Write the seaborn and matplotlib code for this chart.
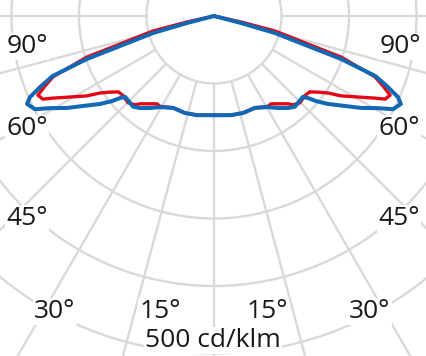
import numpy as np
import pandas as pd
import matplotlib
matplotlib.use("Agg")
import matplotlib.pyplot as plt
import seaborn as sns

# ---- data (angle from nadir in degrees, intensity in cd/klm) ----
blue_angle = [0, 9.7, 16.6, 24.0, 30.7, 34.8, 38.8, 41.7, 47.7, 48.9, 50.2, 52.3,
              58.0, 60.7, 62.5, 64.8, 66.2, 67.8, 69.6, 71.3, 72.3, 74.4, 75.5, 90]
blue_cdklm = [147, 149, 150, 149, 157, 166, 175, 180, 178, 185, 197, 213,
              257, 279, 299, 306, 298, 278, 255, 199, 146, 94, 41, 0]

red_angle = [0, 9.7, 16.6, 24.0, 31.0, 32.9, 40.1, 41.6, 44.7, 49.0, 51.6, 53.8,
             56.0, 57.8, 61.1, 63.0, 64.1, 65.8, 67.5, 69.3, 72.1, 73.4, 76.2, 77.5, 90]
red_cdklm = [147, 149, 150, 149, 156, 155, 170, 176, 181, 179, 181, 191,
             204, 222, 249, 268, 282, 286, 271, 255, 198, 145, 93, 41, 0]

ring_values = [100, 200, 300, 400, 500]
spoke_angles = list(range(0, 360, 15))
angle_labels = ["90°", "60°", "45°", "30°", "15°"]
scale_label = "500 cd/klm"


def full_curve(ang, val):
    # left half (positive angles) mirrored to the right half (negative angles)
    a = list(reversed(ang)) + [-x for x in ang[1:]]
    v = list(reversed(val)) + list(val[1:])
    return pd.DataFrame({"theta": np.deg2rad(a), "cdklm": v, "order": range(len(a))})


sns.set_style("white")
plt.rcParams["font.family"] = ["Open Sans", "DejaVu Sans"]

W, H = 427, 356
fig = plt.figure(figsize=(W / 100, H / 100), dpi=100)
cx, cy = 214, 16          # pole position in pixels (from top-left)
rmax = 600
R = rmax * 0.675          # pixels
ax = fig.add_axes([(cx - R) / W, (H - cy - R) / H, 2 * R / W, 2 * R / H], projection="polar")
ax.set_theta_zero_location("S")
ax.set_theta_direction(-1)
ax.set_ylim(0, rmax)
ax.set_facecolor("white")
ax.spines["polar"].set_visible(False)

grid_c = "#d9d9d9"
ax.set_xticks([])
ax.set_yticks(ring_values)
ax.set_yticklabels([])
ax.xaxis.grid(False)
ax.yaxis.grid(True, color=grid_c, lw=1.7)
ax.vlines(np.deg2rad(spoke_angles), 100, rmax, color=grid_c, lw=1.7, zorder=1)

red_df = full_curve(red_angle, red_cdklm)
blue_df = full_curve(blue_angle, blue_cdklm)
sns.lineplot(data=red_df, x="theta", y="cdklm", sort=False, estimator=None, ax=ax,
             color="#e30613", lw=2.4, solid_joinstyle="round", zorder=3)
sns.lineplot(data=blue_df, x="theta", y="cdklm", sort=False, estimator=None, ax=ax,
             color="#1368b3", lw=2.9, solid_joinstyle="round", zorder=4)
ax.set_xlabel("")
ax.set_ylabel("")
ax.set_ylim(0, rmax)

# labels (pixel baseline positions)
fs = 19
box = dict(facecolor="white", edgecolor="none", pad=1.0)
label_pos = {
    "90°": [(27, 53), (400, 53)],
    "60°": [(27, 135), (399, 135)],
    "45°": [(27, 225), (399, 225)],
    "30°": [(55, 318), (370, 318)],
    "15°": [(160, 318), (267, 318)],
}
for lab in angle_labels:
    for (px, py) in label_pos[lab]:
        fig.text(px / W, 1 - py / H, lab, ha="center", va="baseline", fontsize=fs,
                 color="#1a1a1a", bbox=box, zorder=5)
fig.text(213 / W, 1 - 347 / H, scale_label, ha="center", va="baseline", fontsize=fs,
         color="#1a1a1a", bbox=box, zorder=5)

fig.savefig("out.png", dpi=100, facecolor="white")
